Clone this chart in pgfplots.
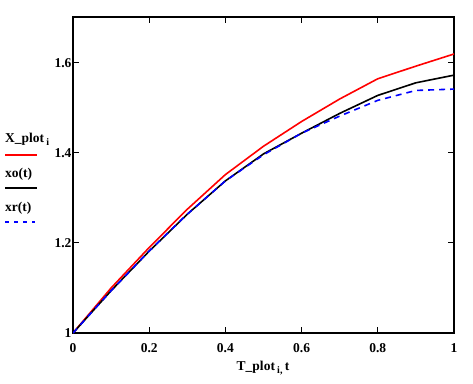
\documentclass[border=0pt]{standalone}
\usepackage{fontspec}
\setmainfont{Liberation Serif}
\usepackage{pgfplots}
\pgfplotsset{compat=1.18}
\newcommand{\sub}[1]{\raisebox{-3pt}{\fontsize{10}{12}\selectfont #1}}
\begin{document}
\begin{tikzpicture}
\path (0pt,0pt) rectangle (473pt,383pt);
\begin{axis}[
  at={(73pt,50pt)}, anchor=south west, scale only axis,
  width=381pt, height=316pt,
  xmin=0, xmax=1, ymin=1, ymax=1.7022,
  xtick={0,0.2,0.4,0.6,0.8,1}, ytick={1,1.2,1.4,1.6},
  xticklabels={0,0.2,0.4,0.6,0.8,1},
  yticklabels={1,1.2,1.4,1.6},
  tick align=inside, major tick length=6pt,
  axis line style={line width=1.1pt},
  every tick/.style={black, line width=1pt},
  tick label style={font=\fontsize{13.5}{15}\selectfont\bfseries},
  xticklabel style={yshift=-7pt},
  yticklabel style={xshift=2pt},
  clip=true,
]
\addplot[red, line width=1.6pt] coordinates {
(0,1) (0.1,1.100) (0.2,1.190) (0.3,1.275) (0.4,1.352) (0.5,1.415)
(0.6,1.470) (0.7,1.520) (0.8,1.565) (0.9,1.593) (1.0,1.620)};
\addplot[black, line width=1.6pt] coordinates {
(0,1) (0.1,1.094) (0.2,1.182) (0.3,1.264) (0.4,1.338) (0.5,1.398)
(0.6,1.444) (0.7,1.488) (0.8,1.528) (0.9,1.556) (1.0,1.573)};
\addplot[blue, line width=1.6pt, dash pattern=on 6pt off 5pt] coordinates {
(0,1) (0.1,1.094) (0.2,1.182) (0.3,1.264) (0.4,1.338) (0.5,1.396)
(0.6,1.444) (0.7,1.482) (0.8,1.517) (0.9,1.539) (1.0,1.542)};
\end{axis}
\begin{scope}[font=\fontsize{13.5}{15}\selectfont\bfseries]
\node[anchor=west, inner sep=0pt] at (5pt,244pt) {X\_plot\,\sub{i}};
\draw[red, line width=1.6pt] (5pt,228pt) -- (37pt,228pt);
\node[anchor=west, inner sep=0pt] at (5pt,209pt) {xo(t)};
\draw[black, line width=1.6pt] (5pt,195pt) -- (37pt,195pt);
\node[anchor=west, inner sep=0pt] at (5pt,175pt) {xr(t)};
\draw[blue, line width=1.6pt, dash pattern=on 4pt off 5pt] (5pt,161pt) -- (35pt,161pt);
\node[inner sep=0pt] at (263pt,15pt) {T\_plot\,\sub{i,}\,t};
\end{scope}
\end{tikzpicture}
\end{document}
